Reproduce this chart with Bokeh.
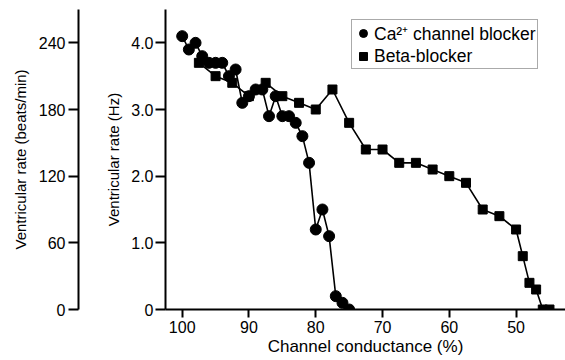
from bokeh.plotting import figure
from bokeh.models import Range1d, FixedTicker, Legend, LegendItem
from bokeh.layouts import row
from bokeh.embed import file_html
from bokeh.resources import INLINE

FONT = "Liberation Sans"

# Ca2+ channel blocker (circles)
ca_x = [100, 99, 98, 97, 96, 95, 94, 93, 92, 91, 90, 89, 88, 87, 86, 85, 84,
        83, 82, 81, 80, 79, 78, 77, 76, 75]
ca_y = [4.1, 3.9, 4.0, 3.8, 3.7, 3.7, 3.7, 3.5, 3.6, 3.1, 3.2, 3.3, 3.3, 2.9,
        3.2, 2.9, 2.9, 2.8, 2.6, 2.2, 1.2, 1.5, 1.1, 0.2, 0.1, 0.0]

# Beta-blocker (squares)
beta_x = [97.5, 95, 92.5, 90, 87.5, 85, 82.5, 80, 77.5, 75, 72.5, 70, 67.5,
          65, 62.5, 60, 57.5, 55, 52.5, 50, 49, 48, 47, 46, 45]
beta_y = [3.7, 3.5, 3.4, 3.2, 3.4, 3.2, 3.1, 3.0, 3.3, 2.8, 2.4, 2.4, 2.2,
          2.2, 2.1, 2.0, 1.9, 1.5, 1.4, 1.2, 0.8, 0.4, 0.3, 0.0, 0.0]

x_ticks = [100, 90, 80, 70, 60, 50]
hz_ticks = [0, 1, 2, 3, 4]
hz_labels = ["0", "1.0", "2.0", "3.0", "4.0"]
bpm_ticks = [0, 60, 120, 180, 240]

H = 360
TOP = 9
BOTTOM = 51


def style_axis(ax, tick_out, label_size):
    ax.axis_line_width = 2
    ax.axis_line_color = "black"
    ax.major_tick_line_width = 2
    ax.major_tick_line_color = "black"
    ax.major_tick_out = tick_out
    ax.major_tick_in = 0
    ax.minor_tick_line_color = None
    ax.major_label_text_font = FONT
    ax.major_label_text_font_size = "16px"
    ax.major_label_text_color = "black"
    ax.axis_label_text_font = FONT
    ax.axis_label_text_font_size = label_size
    ax.axis_label_text_font_style = "normal"
    ax.axis_label_text_color = "black"


# Outer axis (beats/min)
p2 = figure(width=88, height=H, output_backend="svg", toolbar_location=None,
            x_range=Range1d(0, 1), y_range=Range1d(0, 270),
            min_border_left=78, min_border_right=0,
            min_border_top=TOP, min_border_bottom=BOTTOM)
p2.outline_line_color = None
p2.xaxis.visible = False
p2.grid.visible = False
p2.yaxis.ticker = FixedTicker(ticks=bpm_ticks)
p2.yaxis.axis_label = "Ventricular rate (beats/min)"
style_axis(p2.yaxis[0], 10, "15px")
p2.yaxis.major_label_standoff = 3
p2.yaxis.axis_label_standoff = 7

# Main plot
p = figure(width=477, height=H, output_backend="svg", toolbar_location=None,
           x_range=Range1d(102.5, 42.6), y_range=Range1d(0, 4.5),
           min_border_left=77, min_border_right=0,
           min_border_top=TOP, min_border_bottom=BOTTOM)
p.outline_line_color = None
p.grid.visible = False

p.xaxis.ticker = FixedTicker(ticks=x_ticks)
p.xaxis.axis_label = "Channel conductance (%)"
style_axis(p.xaxis[0], 8, "17px")
p.xaxis.major_label_standoff = 3
p.xaxis.axis_label_standoff = 1

p.yaxis.ticker = FixedTicker(ticks=hz_ticks)
p.yaxis.major_label_overrides = {t: l for t, l in zip(hz_ticks, hz_labels)}
p.yaxis.axis_label = "Ventricular rate (Hz)"
style_axis(p.yaxis[0], 10, "15px")
p.yaxis.major_label_standoff = 2
p.yaxis.axis_label_standoff = 6

p.line(beta_x, beta_y, line_color="black", line_width=1.6)
sq = p.scatter(beta_x, beta_y, marker="square", size=9,
               fill_color="black", line_color="black")
p.line(ca_x, ca_y, line_color="black", line_width=1.6)
ci = p.scatter(ca_x, ca_y, marker="circle", size=11,
               fill_color="black", line_color="black")

legend = Legend(items=[LegendItem(label="Ca\u00b2\u207a channel blocker", renderers=[ci]),
                       LegendItem(label="Beta-blocker", renderers=[sq])],
                location=(186, 240))
legend.label_text_font = FONT
legend.label_text_font_size = "17.5px"
legend.label_text_color = "black"
legend.glyph_width = 20
legend.glyph_height = 22
legend.label_height = 22
legend.label_standoff = 1
legend.padding = 1
legend.spacing = 0
legend.margin = 0
legend.border_line_color = "#555555"
legend.border_line_width = 1
legend.background_fill_alpha = 1
p.add_layout(legend)

layout = row(p2, p, spacing=0)
open("out.html", "w").write(file_html(layout, INLINE))
